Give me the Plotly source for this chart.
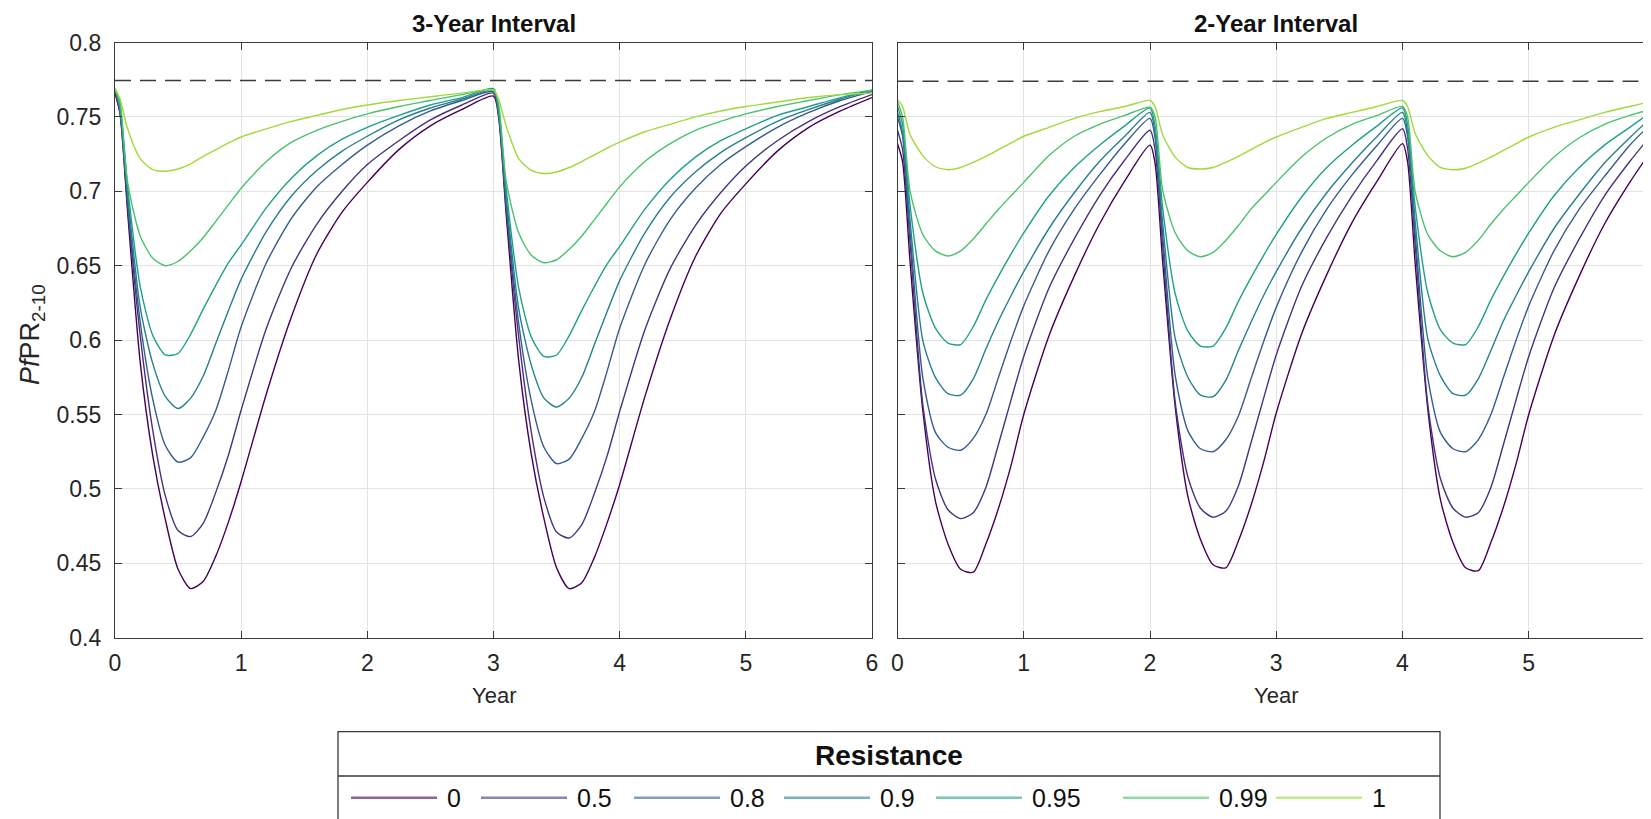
import plotly.graph_objects as go

# ---------------- data ----------------
RESISTANCE = ["0", "0.5", "0.8", "0.9", "0.95", "0.99", "1"]
COLORS = ["#440154", "#46337E", "#365C8D", "#277F8E", "#1FA187", "#4AC16D", "#9FDA3A"]

X_TICKS = [0, 1, 2, 3, 4, 5, 6]
Y_TICKS = [0.4, 0.45, 0.5, 0.55, 0.6, 0.65, 0.7, 0.75, 0.8]
Y_LABELS = ["0.4", "0.45", "0.5", "0.55", "0.6", "0.65", "0.7", "0.75", "0.8"]

DASH_3YR = 0.7745
DASH_2YR = 0.7740

# 3-year interval panel
T3 = [0.0, 0.04, 0.1, 0.2, 0.3, 0.4, 0.5, 0.6, 0.7, 0.8, 0.9, 1.0, 1.2, 1.4, 1.6, 1.8, 2.0, 2.25, 2.5, 2.75, 3.0,
      3.04, 3.1, 3.2, 3.3, 3.4, 3.5, 3.6, 3.7, 3.8, 3.9, 4.0, 4.2, 4.4, 4.6, 4.8, 5.0, 5.25, 5.5, 5.75, 6.0]
P3_R0 = [0.766, 0.752, 0.686, 0.585, 0.522, 0.479, 0.446, 0.433, 0.438, 0.455, 0.478, 0.505, 0.564, 0.616, 0.658, 0.686, 0.706, 0.728, 0.744, 0.755, 0.764,
         0.750, 0.685, 0.586, 0.523, 0.480, 0.447, 0.433, 0.437, 0.454, 0.477, 0.503, 0.562, 0.614, 0.656, 0.685, 0.705, 0.727, 0.743, 0.754, 0.763]
P3_R05 = [0.767, 0.753, 0.690, 0.603, 0.539, 0.495, 0.472, 0.468, 0.477, 0.498, 0.523, 0.553, 0.608, 0.649, 0.678, 0.700, 0.718, 0.734, 0.748, 0.758, 0.766,
          0.752, 0.689, 0.602, 0.538, 0.494, 0.471, 0.467, 0.476, 0.497, 0.522, 0.552, 0.607, 0.648, 0.677, 0.699, 0.717, 0.734, 0.747, 0.757, 0.765]
P3_R08 = [0.768, 0.754, 0.693, 0.612, 0.560, 0.529, 0.518, 0.521, 0.535, 0.553, 0.580, 0.609, 0.652, 0.682, 0.703, 0.718, 0.731, 0.744, 0.754, 0.761, 0.767,
          0.753, 0.692, 0.611, 0.559, 0.528, 0.517, 0.520, 0.534, 0.552, 0.579, 0.608, 0.651, 0.681, 0.702, 0.718, 0.730, 0.743, 0.753, 0.761, 0.767]
P3_R09 = [0.769, 0.755, 0.698, 0.622, 0.584, 0.562, 0.554, 0.561, 0.576, 0.598, 0.620, 0.641, 0.673, 0.697, 0.714, 0.727, 0.737, 0.748, 0.756, 0.762, 0.768,
          0.754, 0.697, 0.621, 0.583, 0.561, 0.555, 0.561, 0.575, 0.597, 0.619, 0.640, 0.672, 0.696, 0.713, 0.726, 0.736, 0.747, 0.755, 0.762, 0.768]
P3_R095 = [0.769, 0.757, 0.703, 0.636, 0.603, 0.590, 0.591, 0.604, 0.621, 0.637, 0.652, 0.664, 0.689, 0.709, 0.724, 0.735, 0.743, 0.751, 0.758, 0.763, 0.769,
           0.756, 0.702, 0.635, 0.602, 0.589, 0.590, 0.603, 0.620, 0.636, 0.651, 0.663, 0.688, 0.708, 0.723, 0.734, 0.742, 0.751, 0.757, 0.763, 0.768]
P3_R099 = [0.769, 0.760, 0.706, 0.670, 0.655, 0.650, 0.653, 0.660, 0.669, 0.680, 0.691, 0.702, 0.720, 0.733, 0.741, 0.747, 0.752, 0.757, 0.761, 0.765, 0.768,
           0.759, 0.707, 0.672, 0.657, 0.652, 0.654, 0.661, 0.670, 0.681, 0.692, 0.703, 0.720, 0.732, 0.741, 0.747, 0.752, 0.757, 0.761, 0.765, 0.768]
P3_R1 = [0.769, 0.762, 0.742, 0.722, 0.7145, 0.7135, 0.715, 0.7185, 0.7235, 0.728, 0.7325, 0.7365, 0.742, 0.747, 0.751, 0.755, 0.758, 0.761, 0.7635, 0.766, 0.768,
         0.762, 0.744, 0.722, 0.714, 0.712, 0.713, 0.716, 0.720, 0.7245, 0.729, 0.733, 0.740, 0.745, 0.750, 0.754, 0.757, 0.760, 0.763, 0.765, 0.766]

# 2-year interval panel
T2 = [0.0, 0.04, 0.1, 0.2, 0.3, 0.4, 0.5, 0.6, 0.7, 0.8, 0.9, 1.0, 1.2, 1.4, 1.6, 1.8, 2.0,
      2.04, 2.1, 2.2, 2.3, 2.4, 2.5, 2.6, 2.7, 2.8, 2.9, 3.0, 3.2, 3.4, 3.6, 3.8, 4.0,
      4.04, 4.1, 4.2, 4.3, 4.4, 4.5, 4.6, 4.7, 4.8, 4.9, 5.0, 5.2, 5.4, 5.6, 5.8, 6.0]
P2_R0 = [0.732, 0.720, 0.652, 0.553, 0.492, 0.463, 0.446, 0.444, 0.463, 0.487, 0.516, 0.550, 0.603, 0.643, 0.678, 0.707, 0.731,
         0.719, 0.653, 0.555, 0.495, 0.466, 0.449, 0.447, 0.465, 0.489, 0.518, 0.551, 0.604, 0.644, 0.679, 0.707, 0.732,
         0.720, 0.652, 0.554, 0.493, 0.464, 0.447, 0.445, 0.464, 0.488, 0.517, 0.550, 0.603, 0.643, 0.678, 0.706, 0.731]
P2_R05 = [0.741, 0.728, 0.665, 0.557, 0.507, 0.486, 0.480, 0.484, 0.501, 0.530, 0.560, 0.589, 0.635, 0.668, 0.697, 0.721, 0.741,
          0.728, 0.664, 0.558, 0.508, 0.487, 0.481, 0.485, 0.502, 0.531, 0.561, 0.590, 0.636, 0.669, 0.697, 0.721, 0.742,
          0.729, 0.665, 0.557, 0.507, 0.487, 0.481, 0.484, 0.501, 0.530, 0.560, 0.589, 0.635, 0.668, 0.697, 0.720, 0.741]
P2_R08 = [0.750, 0.737, 0.672, 0.575, 0.538, 0.528, 0.526, 0.534, 0.550, 0.575, 0.600, 0.623, 0.660, 0.688, 0.711, 0.732, 0.749,
          0.736, 0.671, 0.576, 0.539, 0.527, 0.525, 0.533, 0.549, 0.574, 0.599, 0.622, 0.659, 0.688, 0.711, 0.731, 0.749,
          0.737, 0.672, 0.575, 0.538, 0.527, 0.525, 0.533, 0.550, 0.575, 0.600, 0.623, 0.660, 0.688, 0.710, 0.731, 0.748]
P2_R09 = [0.753, 0.740, 0.680, 0.600, 0.575, 0.564, 0.563, 0.574, 0.594, 0.613, 0.630, 0.646, 0.675, 0.699, 0.720, 0.737, 0.753,
          0.739, 0.679, 0.601, 0.575, 0.563, 0.562, 0.573, 0.593, 0.612, 0.630, 0.646, 0.675, 0.699, 0.719, 0.737, 0.753,
          0.740, 0.680, 0.601, 0.576, 0.564, 0.563, 0.574, 0.593, 0.613, 0.630, 0.646, 0.675, 0.698, 0.719, 0.736, 0.752]
P2_R095 = [0.757, 0.745, 0.690, 0.632, 0.608, 0.598, 0.597, 0.609, 0.627, 0.643, 0.658, 0.672, 0.697, 0.716, 0.731, 0.744, 0.756,
           0.744, 0.689, 0.631, 0.606, 0.596, 0.596, 0.608, 0.626, 0.642, 0.657, 0.671, 0.696, 0.716, 0.731, 0.744, 0.756,
           0.745, 0.690, 0.632, 0.607, 0.598, 0.597, 0.609, 0.627, 0.643, 0.658, 0.672, 0.697, 0.716, 0.731, 0.743, 0.755]
P2_R099 = [0.760, 0.750, 0.700, 0.671, 0.660, 0.6565, 0.660, 0.668, 0.678, 0.688, 0.697, 0.706, 0.724, 0.737, 0.745, 0.751, 0.7565,
           0.750, 0.701, 0.672, 0.660, 0.656, 0.659, 0.667, 0.677, 0.688, 0.697, 0.706, 0.723, 0.736, 0.745, 0.751, 0.757,
           0.750, 0.700, 0.671, 0.660, 0.656, 0.659, 0.667, 0.678, 0.688, 0.697, 0.706, 0.723, 0.736, 0.745, 0.751, 0.756]
P2_R1 = [0.7615, 0.757, 0.738, 0.724, 0.7165, 0.7145, 0.716, 0.7195, 0.7235, 0.728, 0.7325, 0.7370, 0.743, 0.749, 0.7535, 0.757, 0.761,
         0.757, 0.738, 0.723, 0.716, 0.715, 0.716, 0.7195, 0.7235, 0.728, 0.7325, 0.7365, 0.743, 0.749, 0.753, 0.757, 0.761,
         0.757, 0.739, 0.724, 0.716, 0.7145, 0.7155, 0.719, 0.723, 0.7275, 0.732, 0.7365, 0.743, 0.748, 0.753, 0.757, 0.761]

SERIES_3YR = [P3_R0, P3_R05, P3_R08, P3_R09, P3_R095, P3_R099, P3_R1]
SERIES_2YR = [P2_R0, P2_R05, P2_R08, P2_R09, P2_R095, P2_R099, P2_R1]

# ---------------- layout geometry (screen pixels) ----------------
W, H = 1651, 819
PAGE_OFFSET = 8            # default page margin around the figure
FONT = "Liberation Sans, Arial, Helvetica, sans-serif"
AX_COLOR = "#3a3a3a"
GRID_COLOR = "#e3e3e3"


def px(x):
    return (x - PAGE_OFFSET) / W


def py(y):
    return 1 - (y - PAGE_OFFSET) / H


L0, L1 = 115, 872          # left panel x extent
R0, R1 = 897.5, 1655       # right panel x extent (x = 6 lies past the image edge)
TOP, BOT = 42.5, 637.7     # plot y extent
FIG_RIGHT = W + PAGE_OFFSET

fig = go.Figure()

for name, col, ys in zip(RESISTANCE, COLORS, SERIES_3YR):
    fig.add_trace(go.Scatter(x=T3, y=ys, mode="lines", name=name, showlegend=False,
                             line=dict(color=col, width=1.4, shape="spline", smoothing=0.7),
                             xaxis="x", yaxis="y", hoverinfo="skip"))
for name, col, ys in zip(RESISTANCE, COLORS, SERIES_2YR):
    fig.add_trace(go.Scatter(x=T2, y=ys, mode="lines", name=name, showlegend=False,
                             line=dict(color=col, width=1.4, shape="spline", smoothing=0.7),
                             xaxis="x2", yaxis="y2", hoverinfo="skip"))

fig.add_trace(go.Scatter(x=[X_TICKS[0], X_TICKS[-1]], y=[DASH_3YR, DASH_3YR], mode="lines", showlegend=False,
                         line=dict(color="#3c3c3c", width=1.5, dash="16px,9px"), xaxis="x", yaxis="y"))
fig.add_trace(go.Scatter(x=[X_TICKS[0], X_TICKS[-1] + 0.1], y=[DASH_2YR, DASH_2YR], mode="lines", showlegend=False,
                         line=dict(color="#3c3c3c", width=1.5, dash="16px,9px"), xaxis="x2", yaxis="y2"))

tickfont = dict(family=FONT, size=23, color="#262626")
common_x = dict(range=[0, 6], tickvals=X_TICKS, ticktext=[str(v) for v in X_TICKS], ticks="inside", ticklen=7,
                tickcolor=AX_COLOR, showline=True, linecolor=AX_COLOR, linewidth=1.3, showgrid=True,
                gridcolor=GRID_COLOR, gridwidth=1, zeroline=False, tickfont=tickfont, ticklabelstandoff=5,
                automargin=False)
common_y = dict(range=[0.4, 0.8], tickvals=Y_TICKS, ticktext=Y_LABELS, ticks="inside", ticklen=7,
                tickcolor=AX_COLOR, showline=True, linecolor=AX_COLOR, linewidth=1.3, showgrid=True,
                gridcolor=GRID_COLOR, gridwidth=1, zeroline=False, tickfont=tickfont, ticklabelstandoff=8,
                automargin=False)

right_max = 6 * (FIG_RIGHT - R0) / (R1 - R0)

fig.update_layout(
    width=W, height=H, margin=dict(l=0, r=0, t=0, b=0, pad=0, autoexpand=False),
    paper_bgcolor="white", plot_bgcolor="white", showlegend=False,
    font=dict(family=FONT, color="#262626"),
    xaxis=dict(common_x, domain=[px(L0), px(L1)], anchor="y", mirror="allticks"),
    yaxis=dict(common_y, domain=[py(BOT), py(TOP)], anchor="x", mirror="allticks"),
    xaxis2=dict(common_x, domain=[px(R0), 1.0], anchor="y2", mirror="allticks", range=[0, right_max]),
    yaxis2=dict(common_y, domain=[py(BOT), py(TOP)], anchor="x2", mirror=False, showticklabels=False),
)

ann = []
ann.append(dict(text="<b>3-Year Interval</b>", x=px((L0 + L1) / 2), y=py(23), xref="paper", yref="paper",
                showarrow=False, xanchor="center", yanchor="middle", font=dict(size=24, family=FONT, color="#111")))
ann.append(dict(text="<b>2-Year Interval</b>", x=px((R0 + R1) / 2), y=py(23), xref="paper", yref="paper",
                showarrow=False, xanchor="center", yanchor="middle", font=dict(size=24, family=FONT, color="#111")))
for cx in [(L0 + L1) / 2, (R0 + R1) / 2]:
    ann.append(dict(text="Year", x=px(cx), y=py(695), xref="paper", yref="paper", showarrow=False,
                    xanchor="center", yanchor="middle", font=dict(size=22, family=FONT, color="#262626")))
ann.append(dict(text="<i>Pf</i>PR<sub>2-10</sub>", x=px(32), y=py(335), xref="paper", yref="paper",
                showarrow=False, textangle=-90, xanchor="center", yanchor="middle",
                font=dict(size=27, family=FONT, color="#262626")))

# ---------------- legend (drawn box, MATLAB style) ----------------
LEG_X0, LEG_X1, LEG_TOP, LEG_SEP, LEG_ROW = 338, 1440, 731.7, 776, 797.7
shapes = [
    dict(type="rect", xref="paper", yref="paper", x0=px(LEG_X0), x1=px(LEG_X1), y0=py(LEG_TOP), y1=py(H + 30),
         line=dict(color="#3a3a3a", width=1.3), fillcolor="white", layer="above"),
    dict(type="line", xref="paper", yref="paper", x0=px(LEG_X0), x1=px(LEG_X1), y0=py(LEG_SEP), y1=py(LEG_SEP),
         line=dict(color="#3a3a3a", width=1.3), layer="above"),
]
ann.append(dict(text="<b>Resistance</b>", x=px((LEG_X0 + LEG_X1) / 2), y=py(755), xref="paper", yref="paper",
                showarrow=False, xanchor="center", yanchor="middle", font=dict(size=28, family=FONT, color="#111")))
leg_line_starts = [351, 481, 634, 784, 936, 1123, 1276]
LINE_LEN = 86
for name, col, xs in zip(RESISTANCE, COLORS, leg_line_starts):
    shapes.append(dict(type="line", xref="paper", yref="paper", x0=px(xs), x1=px(xs + LINE_LEN),
                       y0=py(LEG_ROW), y1=py(LEG_ROW), line=dict(color=col, width=2.5), opacity=0.6, layer="above"))
    ann.append(dict(text=name, x=px(xs + LINE_LEN + 8), y=py(LEG_ROW), xref="paper", yref="paper",
                    showarrow=False, xanchor="left", yanchor="middle",
                    font=dict(size=25, family=FONT, color="#111")))

fig.update_layout(annotations=ann, shapes=shapes)
fig.write_html("out.html")
